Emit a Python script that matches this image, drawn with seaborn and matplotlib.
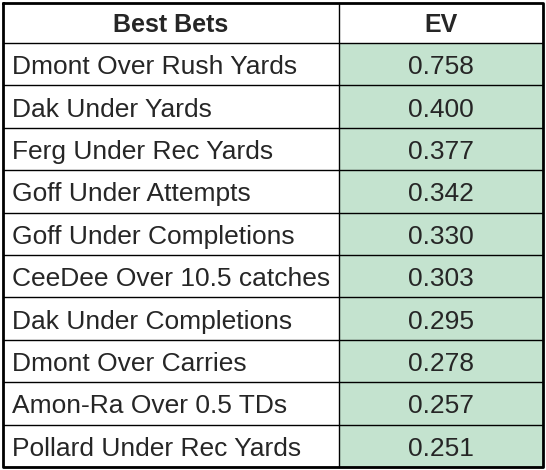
import matplotlib
matplotlib.use("Agg")
import matplotlib.pyplot as plt
import seaborn as sns
import numpy as np
from matplotlib.colors import ListedColormap

sns.set_style("white")
plt.rcParams['font.family'] = ['Liberation Sans', 'DejaVu Sans']

header = ["Best Bets", "EV"]
bets = ["Dmont Over Rush Yards", "Dak Under Yards", "Ferg Under Rec Yards",
        "Goff Under Attempts", "Goff Under Completions", "CeeDee Over 10.5 catches",
        "Dak Under Completions", "Dmont Over Carries", "Amon-Ra Over 0.5 TDs",
        "Pollard Under Rec Yards"]
ev = [0.758, 0.400, 0.377, 0.342, 0.330, 0.303, 0.295, 0.278, 0.257, 0.251]

W, H = 546, 470
fig = plt.figure(figsize=(W/100, H/100), dpi=100)
x0, x1, x2 = 3, 339, 543
y0, yh, y1 = 3, 43, 467
n = len(bets)
fs = 19

axh = fig.add_axes([x1/W, 1 - y1/H, (x2-x1)/W, (y1-yh)/H])
sns.heatmap(np.array(ev).reshape(-1, 1), ax=axh, cmap=ListedColormap(["#c4e3cf"]),
            cbar=False, annot=False, xticklabels=False, yticklabels=False)
axh.set_axis_off()

ax = fig.add_axes([0, 0, 1, 1], facecolor="none")
ax.set_xlim(0, W); ax.set_ylim(H, 0); ax.set_axis_off()
rh = (y1 - yh) / n
for i, (b, v) in enumerate(zip(bets, ev)):
    yc = yh + (i + 0.5) * rh + 3
    ax.text(x0 + 9, yc, b, fontsize=fs, va="center", ha="left")
    ax.text((x1 + x2)/2, yc, f"{v:.3f}", fontsize=fs, va="center", ha="center")
ax.text((x0 + x1)/2, (y0 + yh)/2 + 2, header[0], fontsize=18, weight="bold", ha="center", va="center")
ax.text((x1 + x2)/2, (y0 + yh)/2 + 2, header[1], fontsize=18, weight="bold", ha="center", va="center")
for i in range(n + 1):
    y = yh + i * rh
    ax.plot([x0, x2], [y, y], color="black", lw=1)
ax.plot([x1, x1], [y0, y1], color="black", lw=1)
ax.plot([x0, x2, x2, x0, x0], [y0, y0, y1, y1, y0], color="black", lw=2)

fig.savefig("out.png", dpi=100)
